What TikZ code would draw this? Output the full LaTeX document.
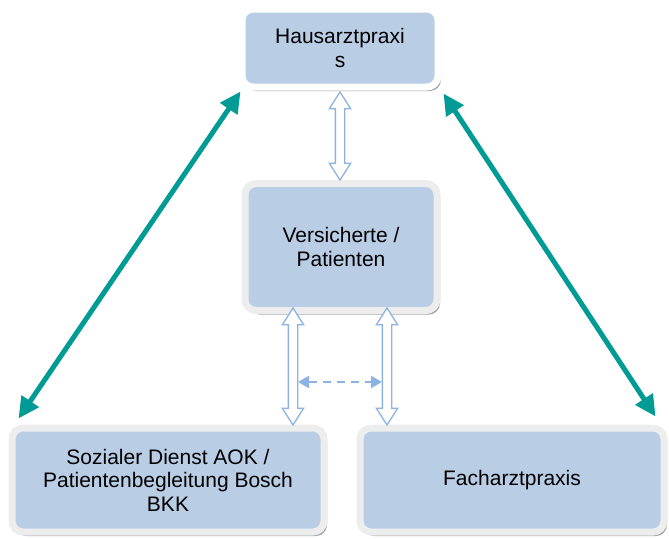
\documentclass[tikz,border=0pt]{standalone}
\usepackage{fontspec}
\setmainfont{Liberation Sans}
\usetikzlibrary{arrows.meta,shapes.arrows,shadows,calc}
\definecolor{boxfill}{HTML}{B9CDE5}
\definecolor{boxrim}{HTML}{EDEDED}
\definecolor{tealc}{HTML}{009B95}
\definecolor{arrowblue}{HTML}{8DB3E2}
\tikzset{
  box/.style={draw=boxrim, line width=7pt, fill=boxfill, rounded corners=11pt,
    align=center, inner sep=0pt, font=\fontsize{21}{23.5}\selectfont,
    drop shadow={shadow xshift=3pt, shadow yshift=-4pt, fill=black!45, opacity=0.8}},
  topbox/.style={box, draw=white},
  hollow/.style={double arrow, draw=arrowblue, fill=white, line width=1.3pt,
    inner sep=4pt, minimum width=20pt, double arrow head extend=6pt,
    double arrow tip angle=65, rotate=90},
  tealarrow/.style={draw=tealc, line width=5pt,
    {Triangle[length=21pt,width=20pt]}-{Triangle[length=21pt,width=20pt]}},
  dasharrow/.style={draw=arrowblue, line width=2pt, dash pattern=on 8pt off 6pt,
    {Triangle[length=11pt,width=12pt]}-{Triangle[length=11pt,width=12pt]}}
}
\begin{document}
\begin{tikzpicture}[x=1pt,y=-1pt]
\useasboundingbox (0,0) rectangle (669,538);
\node[topbox, minimum width=196pt, minimum height=78pt] (H) at (340,48) {Hausarztpraxi\\s};
\node[box, minimum width=192pt, minimum height=127pt] (V) at (341,247) {Versicherte /\\Patienten};
\node[box, minimum width=312pt, minimum height=104pt] (S) at (168,480) {Sozialer Dienst AOK /\\Patientenbegleitung Bosch\\BKK};
\node[box, minimum width=304pt, minimum height=104pt] (F) at (512,480) {Facharztpraxis};

\node[hollow, minimum height=88pt] (A0) at (340,136) {};
\node[hollow, minimum height=117pt] (A1) at (293,366.5) {};
\node[hollow, minimum height=117pt] (A2) at (387,366.5) {};

\coordinate (d1) at ($(A1.center)+(5,15.5)$);
\coordinate (d2) at ($(A2.center)+(-5,15.5)$);
\draw[dasharrow] (d1) -- (d2);

\coordinate (t1) at ($(H.south west)+(2,1)$);
\coordinate (t2) at ($(S.north west)+(10,-6)$);
\coordinate (t3) at ($(H.south east)+(2,3)$);
\coordinate (t4) at ($(F.north east)+(-12,-8)$);
\draw[tealarrow] (t1) -- (t2);
\draw[tealarrow] (t3) -- (t4);
\end{tikzpicture}
\end{document}
